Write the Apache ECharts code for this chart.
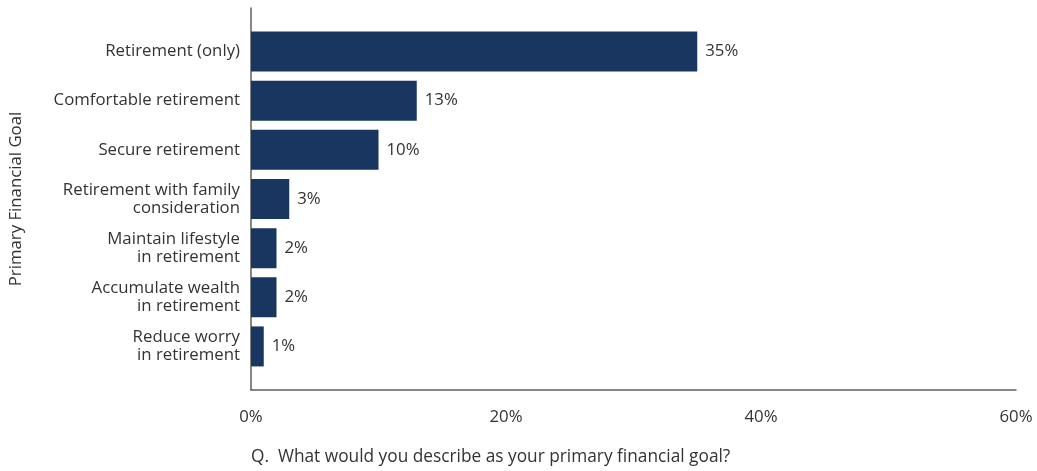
<!DOCTYPE html>
<html>
<head>
<meta charset="utf-8">
<style>
  html, body { margin: 0; padding: 0; background: #ffffff; }
  #chart { width: 1037px; height: 471px; }
</style>
<script src="https://cdn.jsdelivr.net/npm/echarts@6/dist/echarts.min.js"></script>
</head>
<body>
<div id="chart"></div>
<script>
// Primary financial goal responses, top to bottom
const goals = [
  'Retirement (only)',
  'Comfortable retirement',
  'Secure retirement',
  'Retirement with family\nconsideration',
  'Maintain lifestyle\nin retirement',
  'Accumulate wealth\nin retirement',
  'Reduce worry\nin retirement'
];
const shares = [35, 13, 10, 3, 2, 2, 1];
const axisTicks = [0, 20, 40, 60];

const FONT = '"Open Sans", sans-serif';
const SIZE = 16.8;
const TEXT = '#333333';
const BAR = '#183660';

const chart = echarts.init(document.getElementById('chart'));

chart.setOption({
  animation: false,
  title: {
    text: 'Q.  What would you describe as your primary financial goal?',
    left: 251,
    top: 449,
    padding: 0,
    textStyle: { fontFamily: FONT, fontSize: 17.3, fontWeight: 'normal', color: TEXT }
  },
  grid: [
    // bars
    { left: 251, right: 21, top: 27, height: 344, outerBoundsMode: 'none' },
    // axis frame
    { left: 251, right: 21, top: 8, bottom: 81, outerBoundsMode: 'none' }
  ],
  xAxis: [
    {
      gridIndex: 0, type: 'value', min: axisTicks[0], max: axisTicks[axisTicks.length - 1],
      interval: 20, show: false
    },
    {
      gridIndex: 1, type: 'value', min: axisTicks[0], max: axisTicks[axisTicks.length - 1],
      interval: 20,
      axisLine: { show: true, lineStyle: { color: '#5e5e5e', width: 1.5 } },
      axisTick: { show: false },
      splitLine: { show: false },
      axisLabel: {
        margin: 19, fontFamily: FONT, fontSize: SIZE, color: TEXT,
        formatter: v => v + '%'
      }
    }
  ],
  yAxis: [
    {
      gridIndex: 0, type: 'category', data: goals, inverse: true,
      axisLine: { show: false },
      axisTick: { show: false },
      axisLabel: {
        margin: 11, fontFamily: FONT, fontSize: SIZE, color: TEXT,
        lineHeight: 18, align: 'right'
      }
    },
    {
      gridIndex: 1, type: 'value', min: 0, max: 1,
      name: 'Primary Financial Goal',
      nameLocation: 'middle',
      nameGap: 226,
      nameRotate: 90,
      nameTextStyle: { fontFamily: FONT, fontSize: SIZE, color: TEXT },
      axisLine: { show: true, lineStyle: { color: '#5e5e5e', width: 1.5 } },
      axisTick: { show: false },
      axisLabel: { show: false },
      splitLine: { show: false }
    }
  ],
  series: [
    {
      type: 'bar',
      xAxisIndex: 0,
      yAxisIndex: 0,
      data: shares,
      barWidth: 40,
      itemStyle: { color: BAR },
      label: {
        show: true,
        position: 'right',
        distance: 8,
        fontFamily: FONT,
        fontSize: SIZE,
        color: TEXT,
        formatter: p => p.value + '%'
      }
    }
  ]
});
</script>
</body>
</html>
